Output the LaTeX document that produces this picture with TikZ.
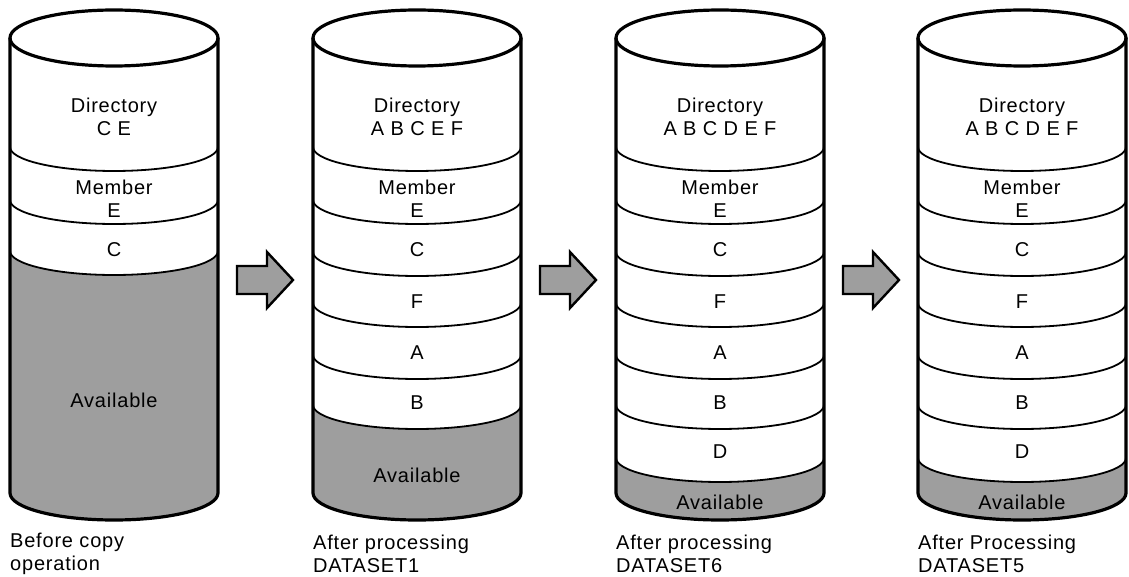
\documentclass[tikz,border=0pt]{standalone}
\usepackage{fontspec}
\setmainfont[LetterSpace=4]{Liberation Sans}
\definecolor{stipple}{RGB}{158,158,158}
\tikzset{
  outline/.style={line width=3.2pt, line join=round},
  divider/.style={line width=1.8pt},
  avail/.style={fill=stipple},
  lab/.style={inner sep=0pt, align=center, font=\fontsize{20}{23}\selectfont},
  caption/.style={inner sep=0pt, align=left, anchor=west, font=\fontsize{20}{23}\selectfont},
  blockarrow/.style={fill=stipple, draw=black, line width=2.4pt, line join=miter},
}
% #1 = centre x, #2 = top edge y of the available area
\newcommand{\cylbody}[2]{%
  \fill[avail] (#1-104,#2) arc[start angle=180,end angle=0,x radius=104,y radius=24]
     -- (#1+104,493) arc[start angle=0,end angle=180,x radius=104,y radius=27] -- cycle;
  \draw[divider] (#1-104,#2) arc[start angle=180,end angle=0,x radius=104,y radius=24];
  \draw[outline] (#1,38) ellipse[x radius=104,y radius=28];
  \draw[outline] (#1-104,38) -- (#1-104,493) arc[start angle=180,end angle=360,x radius=104,y radius=-27] -- (#1+104,38);
}
\newcommand{\divarc}[2]{%
  \draw[divider] (#1-104,#2) arc[start angle=180,end angle=0,x radius=104,y radius=24];
}
\newcommand{\barrow}[1]{%
  \draw[blockarrow] (#1,266) -- (#1+30,266) -- (#1+30,252) -- (#1+56,280) -- (#1+30,308) -- (#1+30,294) -- (#1,294) -- cycle;
}
\begin{document}
\begin{tikzpicture}[x=1pt,y=-1pt]
\useasboundingbox (0,0) rectangle (1129,577);

% ---------- cylinder 1 ----------
\cylbody{114}{251}
\divarc{114}{147}
\divarc{114}{200}
\node[lab] (d1) at (114,116.5) {Directory\\C E};
\node[lab] (m1) at (114,198.5) {Member\\E};
\node[lab] (c1) at (114,250) {C};
\node[lab] (v1) at (114,400) {Available};
\node[caption] (t1) at (10,553.5) {Before copy\\operation};

% ---------- cylinder 2 ----------
\cylbody{417}{405}
\foreach \yy in {147,200,252,303,355}{\divarc{417}{\yy}}
\node[lab] (d2) at (417,116.5) {Directory\\A B C E F};
\node[lab] (m2) at (417,198.5) {Member\\E};
\node[lab] (c2) at (417,250) {C};
\node[lab] (f2) at (417,302) {F};
\node[lab] (a2) at (417,353) {A};
\node[lab] (b2) at (417,403) {B};
\node[lab] (v2) at (417,475) {Available};
\node[caption] (t2) at (313,553.5) {After processing\\DATASET1};

% ---------- cylinder 3 ----------
\cylbody{720}{458}
\foreach \yy in {147,200,252,303,355,405}{\divarc{720}{\yy}}
\node[lab] (d3) at (720,116.5) {Directory\\A B C D E F};
\node[lab] (m3) at (720,198.5) {Member\\E};
\node[lab] (c3) at (720,250) {C};
\node[lab] (f3) at (720,302) {F};
\node[lab] (a3) at (720,353) {A};
\node[lab] (b3) at (720,403) {B};
\node[lab] (e3) at (720,452) {D};
\node[lab] (v3) at (720,502) {Available};
\node[caption] (t3) at (616,553.5) {After processing\\DATASET6};

% ---------- cylinder 4 ----------
\cylbody{1022}{458}
\foreach \yy in {147,200,252,303,355,405}{\divarc{1022}{\yy}}
\node[lab] (d4) at (1022,116.5) {Directory\\A B C D E F};
\node[lab] (m4) at (1022,198.5) {Member\\E};
\node[lab] (c4) at (1022,250) {C};
\node[lab] (f4) at (1022,302) {F};
\node[lab] (a4) at (1022,353) {A};
\node[lab] (b4) at (1022,403) {B};
\node[lab] (e4) at (1022,452) {D};
\node[lab] (v4) at (1022,502) {Available};
\node[caption] (t4) at (918,553.5) {After Processing\\DATASET5};

% ---------- block arrows ----------
\barrow{237}
\barrow{540}
\barrow{843}
\end{tikzpicture}
\end{document}
